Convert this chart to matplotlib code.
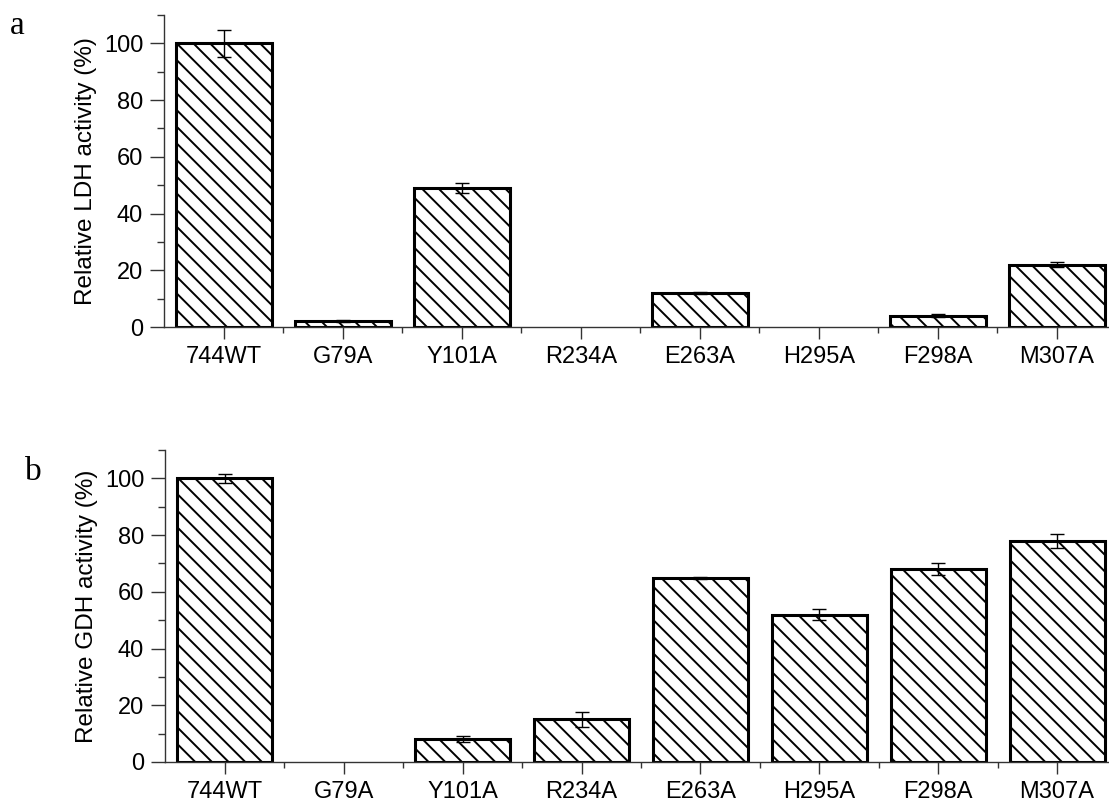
import matplotlib
matplotlib.use("Agg")
import matplotlib.pyplot as plt
import numpy as np
from matplotlib.ticker import FixedLocator

categories = ["744WT", "G79A", "Y101A", "R234A", "E263A", "H295A", "F298A", "M307A"]
ldh_values = [100, 2.2, 49, 0, 12, 0, 4, 22]
ldh_errors = [4.8, 0.3, 1.8, 0, 0.5, 0, 0.6, 0.8]
gdh_values = [100, 0, 8, 15, 65, 52, 68, 78]
gdh_errors = [1.5, 0, 1.0, 2.5, 0.4, 1.8, 2.0, 2.5]
panel_labels = ["a", "b"]
ylabels = ["Relative LDH activity (%)", "Relative GDH activity (%)"]

plt.rcParams['font.family'] = ['Liberation Sans', 'DejaVu Sans']
plt.rcParams['hatch.linewidth'] = 1.4
plt.rcParams['hatch.color'] = 'black'

fig = plt.figure(figsize=(11.09, 8.07), dpi=100)
ax_pos = [[164/1109, 1-327/807, 1-164/1109, (327-15)/807],
          [165/1109, 1-762/807, 1-165/1109, (762-450)/807]]
letter_pos = [(10/1109, 1-10/807), (25/1109, 1-456/807)]

x = np.arange(len(categories))
for i, (vals, errs) in enumerate([(ldh_values, ldh_errors), (gdh_values, gdh_errors)]):
    ax = fig.add_axes(ax_pos[i])
    bars = ax.bar(x, vals, width=0.8, color='white', edgecolor='black',
                  linewidth=2.2, hatch='\\\\', zorder=2)
    for b, v in zip(bars, vals):
        if v == 0:
            b.set_visible(False)
    vals_a = np.array(vals, dtype=float)
    errs_a = np.array(errs, dtype=float)
    m = vals_a > 0
    ax.errorbar(x[m], vals_a[m], yerr=errs_a[m], fmt='none', ecolor='black',
                elinewidth=1.0, capsize=4.7, capthick=1.0, zorder=3)
    ax.set_xlim(-0.504, 7.437)
    ax.set_ylim(0, 110)
    ax.spines['top'].set_visible(False)
    ax.spines['right'].set_visible(False)
    for s in ['left', 'bottom']:
        ax.spines[s].set_linewidth(1.0)
        ax.spines[s].set_color('#333333')
    ax.yaxis.set_major_locator(FixedLocator([0, 20, 40, 60, 80, 100]))
    ax.yaxis.set_minor_locator(FixedLocator([10, 30, 50, 70, 90, 110]))
    ax.set_xticks(x)
    ax.set_xticklabels(categories)
    ax.xaxis.set_minor_locator(FixedLocator(np.arange(0.5, 7.5, 1.0)))
    ax.tick_params(axis='y', which='major', direction='out', length=10, width=1.0,
                   color='#333333', labelsize=17, pad=5)
    ax.tick_params(axis='y', which='minor', direction='out', length=5, width=1.0,
                   color='#333333')
    ax.tick_params(axis='x', which='major', direction='out', length=8.5, width=1.0,
                   color='#333333', labelsize=17, pad=5)
    ax.tick_params(axis='x', which='minor', direction='out', length=4, width=1.0,
                   color='#333333')
    ax.set_ylabel(ylabels[i], fontsize=17.5, labelpad=5)
    fig.text(letter_pos[i][0], letter_pos[i][1], panel_labels[i],
             family=['Liberation Serif', 'DejaVu Serif'], fontsize=24, va='top')

fig.savefig("out.png", dpi=100)
